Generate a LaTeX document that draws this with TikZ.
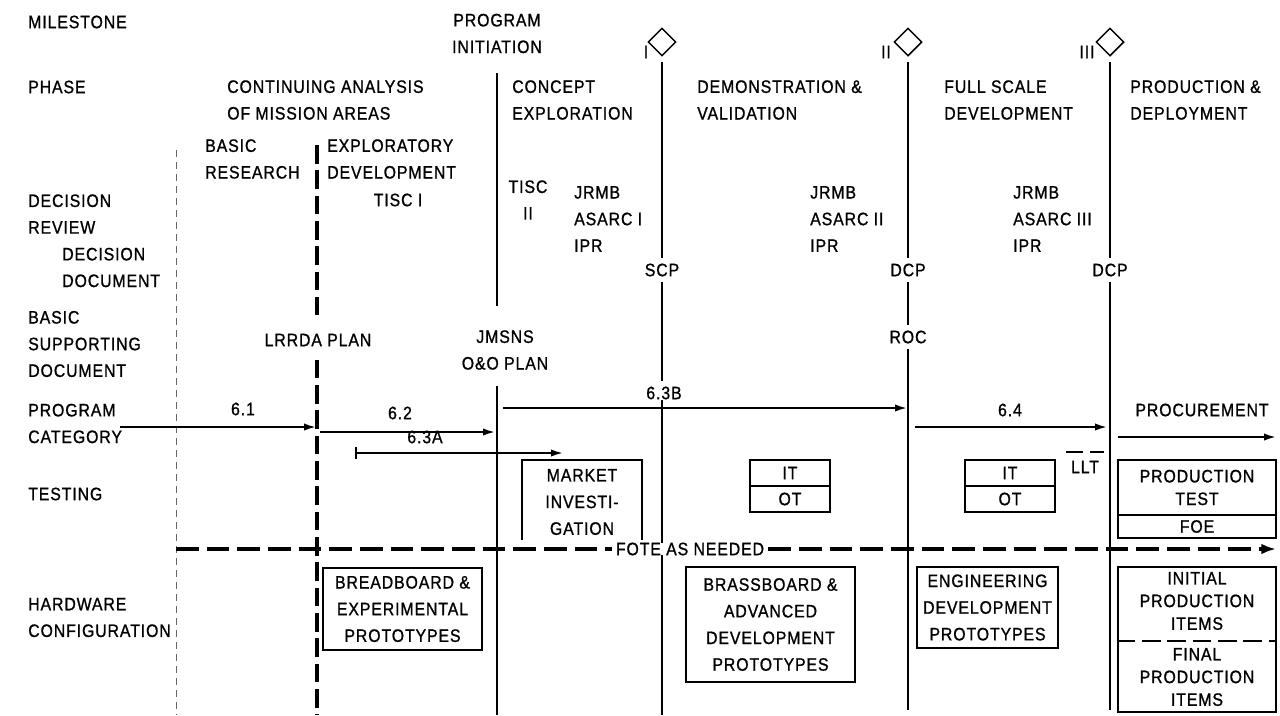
\documentclass[tikz,border=0pt]{standalone}
\usepackage{fontspec}
\setmainfont{Liberation Sans}[FakeStretch=0.88,LetterSpace=5,FakeBold=1]
\usetikzlibrary{arrows.meta,shapes.geometric}
\newcommand\lblfont{\fontsize{13.5}{20}\selectfont}
\newcommand\tightfont{\fontsize{13.5}{17}\selectfont}
\begin{document}
\begin{tikzpicture}[x=0.75pt,y=-0.75pt,
  lbl/.style={font=\lblfont, inner sep=0pt, align=left, anchor=west},
  ctr/.style={font=\lblfont, inner sep=0pt, align=center},
  tctr/.style={font=\tightfont, inner sep=0pt, align=center},
  vline/.style={line width=1.1pt},
  gapline/.style={line width=1.1pt, shorten <=4pt, shorten >=4pt},
  arr/.style={line width=1.4pt, -{Latex[length=9pt,width=5.5pt]}},
  bararr/.style={line width=1.4pt, {Bar[width=9pt]}-{Latex[length=9pt,width=5.5pt]}},
  boxed/.style={draw, line width=1.8pt, inner sep=0pt, font=\lblfont, align=center},
  thickdash/.style={line width=2.6pt, dash pattern=on 14pt off 5pt},
  thindash/.style={line width=0.5pt, dash pattern=on 5pt off 4pt, black!60},
  fotedash/.style={line width=2.6pt, dash pattern=on 17pt off 6pt},
  ms/.style={diamond, draw, line width=1.1pt, minimum size=21pt, inner sep=0pt}
]
\useasboundingbox (0,0) rectangle (1280,715);

% ---------- left column labels ----------
\node[lbl] (lmile) at (28,22) {MILESTONE};
\node[lbl] (lphase) at (28,87) {PHASE};
\node[lbl] (ldr) at (28,214) {DECISION\\REVIEW};
\node[lbl] (ldd) at (62,267.5) {DECISION\\DOCUMENT};
\node[lbl] (lbsd) at (28,344) {BASIC\\SUPPORTING\\DOCUMENT};
\node[lbl] (lpc) at (28,423.5) {PROGRAM\\CATEGORY};
\node[lbl] (ltest) at (28,494) {TESTING};
\node[lbl] (lhw) at (28,617.5) {HARDWARE\\CONFIGURATION};

% ---------- milestones ----------
\node[ctr] (pi) at (497,33.5) {PROGRAM\\INITIATION};
\node[ms] (m1) at (662,42) {};
\node[ms] (m2) at (908,42) {};
\node[ms] (m3) at (1110,42) {};
\node[ctr] (m1l) at (646,52) {I};
\node[ctr] (m2l) at (886,52) {II};
\node[ctr] (m3l) at (1087,52) {III};

% ---------- phases ----------
\node[lbl] (ph0) at (227,100) {CONTINUING ANALYSIS\\OF MISSION AREAS};
\node[lbl] (ph1) at (512,100) {CONCEPT\\EXPLORATION};
\node[lbl] (ph2) at (697,100) {DEMONSTRATION \&\\VALIDATION};
\node[lbl] (ph3) at (944,100) {FULL SCALE\\DEVELOPMENT};
\node[lbl] (ph4) at (1130,100) {PRODUCTION \&\\DEPLOYMENT};
\node[lbl] (br) at (205,159) {BASIC\\RESEARCH};
\node[lbl] (ed) at (327,159) {EXPLORATORY\\DEVELOPMENT};

% ---------- decision review / documents ----------
\node[ctr] (tisc1) at (398,200) {TISC I};
\node[ctr] (tisc2) at (528,200) {TISC\\II};
\node[lbl] (dr1) at (574,219) {JRMB\\ASARC I\\IPR};
\node[lbl] (dr2) at (810,219) {JRMB\\ASARC II\\IPR};
\node[lbl] (dr3) at (1013,219) {JRMB\\ASARC III\\IPR};
\node[ctr] (scp) at (662,270) {SCP};
\node[ctr] (dcp2) at (908,270) {DCP};
\node[ctr] (dcp3) at (1110,270) {DCP};
\node[ctr] (lrrda) at (318,340) {LRRDA PLAN};
\node[ctr] (jmsns) at (505,350) {JMSNS\\O\&O PLAN};
\node[ctr] (roc) at (908,337) {ROC};
\node[ctr] (c63b) at (664,393) {6.3B};

% ---------- vertical lines ----------
\coordinate (t0) at (176,150);
\coordinate (b0) at (176,715);
\coordinate (t1) at (317,145);
\coordinate (b1) at (317,715);
\coordinate (b2) at (497,715);
\coordinate (b3) at (662,715);
\coordinate (b4) at (908,715);
\coordinate (b5) at (1110,715);
\draw[thindash] (t0) -- (b0);
\draw[thickdash] (t1) -- ([yshift=14pt]lrrda.north -| t1);
\draw[thickdash] ([yshift=-10pt]lrrda.south -| t1) -- (b1);
\draw[vline] ([yshift=-15pt]pi.south -| b2) -- ([yshift=18pt]jmsns.north -| b2);
\draw[vline] ([yshift=-12pt]jmsns.south -| b2) -- (b2);
\draw[gapline] (m1.south) -- (scp.north);
\draw[gapline] (scp.south) -- (c63b.north -| b3);
\draw[vline] (c63b.south -| b3) -- (b3);
\draw[gapline] (m2.south) -- (dcp2.north);
\draw[gapline] (dcp2.south) -- (roc.north);
\draw[gapline] (roc.south) -- (b4);
\draw[gapline] (m3.south) -- (dcp3.north);
\draw[gapline] (dcp3.south) -- (b5);

% ---------- program category ----------
\coordinate (a1s) at (120,427);
\coordinate (a1e) at (316,427);
\coordinate (a2s) at (320,432);
\coordinate (a2e) at (495,432);
\coordinate (a3s) at (355,453);
\coordinate (a3e) at (563,453);
\coordinate (a4s) at (503,408);
\coordinate (a4e) at (907,408);
\coordinate (a5s) at (915,427);
\coordinate (a5e) at (1107,427);
\coordinate (a6s) at (1118,437);
\coordinate (a6e) at (1276,437);
\draw[arr] (a1s) -- (a1e);
\draw[arr] (a2s) -- (a2e);
\draw[bararr] (a3s) -- (a3e);
\draw[arr] (a4s) -- (a4e);
\draw[arr] (a5s) -- (a5e);
\draw[arr] (a6s) -- (a6e);
\node[ctr] (c61) at (243,409) {6.1};
\node[ctr] (c62) at (400,413) {6.2};
\node[ctr] (c63a) at (425,437) {6.3A};
\node[ctr] (c64) at (1010,410) {6.4};
\node[ctr] (proc) at (1202,410) {PROCUREMENT};
\node[ctr] (llt) at (1085,467) {LLT};
\coordinate (lls) at (1066,452);
\coordinate (lle) at (1104,452);
\draw[line width=1.4pt, dash pattern=on 13pt off 5pt] (lls) -- (lle);

% ---------- testing ----------
\draw[line width=1.8pt] (522,540) -- (522,460) -- (642,460) -- (642,540);
\node[ctr] (mkt) at (582,502) {MARKET\\INVESTI-\\GATION};
\node[boxed, minimum width=60pt, minimum height=19.5pt] (it1) at (790,473) {IT};
\node[boxed, minimum width=60pt, minimum height=19.5pt] (ot1) at (790,499) {OT};
\node[boxed, minimum width=67.5pt, minimum height=19.5pt] (it2) at (1010,473) {IT};
\node[boxed, minimum width=67.5pt, minimum height=19.5pt] (ot2) at (1010,499) {OT};
\node[boxed, font=\tightfont, minimum width=118.5pt, minimum height=41.25pt] (pt) at (1197,487.5) {PRODUCTION\\TEST};
\node[boxed, minimum width=118.5pt, minimum height=17.25pt] (foe) at (1197,526.5) {FOE};

% ---------- FOTE ----------
\node[ctr, fill=white, inner xsep=3pt] (fote) at (690,549) {FOTE AS NEEDED};
\coordinate (fs) at (176,549);
\coordinate (fe) at (1276,549);
\draw[fotedash] (fs) -- (fote.west);
\draw[fotedash, -{Latex[length=11pt,width=8pt]}] (fote.east) -- (fe);

% ---------- hardware ----------
\node[boxed, minimum width=119.25pt, minimum height=61.5pt] (bb) at (402.5,609) {BREADBOARD \&\\EXPERIMENTAL\\PROTOTYPES};
\node[boxed, minimum width=126.75pt, minimum height=86.25pt] (brass) at (770.5,624.5) {BRASSBOARD \&\\ADVANCED\\DEVELOPMENT\\PROTOTYPES};
\node[boxed, minimum width=105.75pt, minimum height=60.75pt] (eng) at (987.5,607.5) {ENGINEERING\\DEVELOPMENT\\PROTOTYPES};
\node[draw, line width=1.8pt, minimum width=118.5pt, minimum height=108.75pt, inner sep=0pt] (prodbox) at (1197,639.5) {};
\draw[line width=2.2pt, dash pattern=on 14pt off 5pt] (prodbox.west |- 0,641) -- (prodbox.east |- 0,641);
\node[tctr] (ipi) at (1197,601) {INITIAL\\PRODUCTION\\ITEMS};
\node[tctr] (fpi) at (1197,677) {FINAL\\PRODUCTION\\ITEMS};
\end{tikzpicture}
\end{document}
